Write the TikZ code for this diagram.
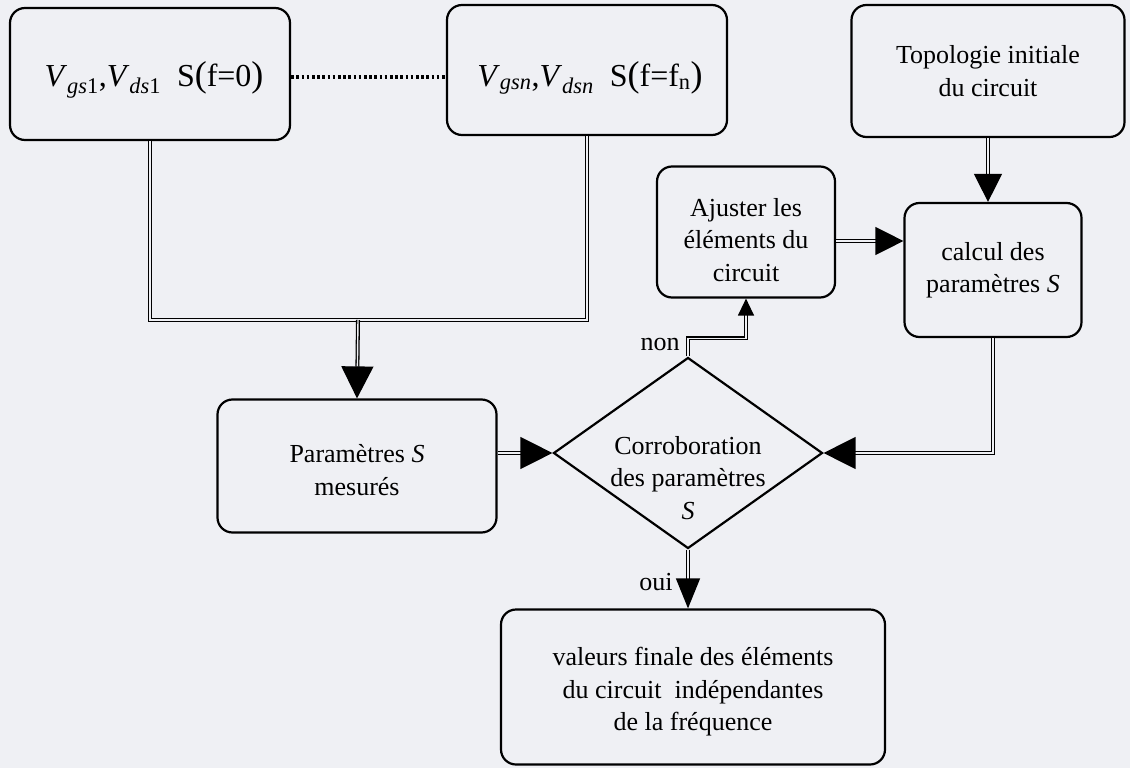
\documentclass[tikz,border=0pt]{standalone}
\usepackage{fontspec}
\setmainfont{Liberation Serif}
\usetikzlibrary{shapes.geometric,arrows.meta}
\definecolor{bgc}{RGB}{239,240,244}
\newcommand\bigparen[1]{{\fontsize{36}{36}\selectfont #1}}
\newcommand\vsub[2]{\textit{#1}\textsubscript{#2}}
\begin{document}
\begin{tikzpicture}[x=1pt,y=-1pt,
  box/.style={draw,line width=2.2pt,rounded corners=15pt,align=center,inner sep=0pt},
  conn/.style={line width=1.3pt,double=bgc,double distance=1.4pt},
  bigtip/.style={-{Triangle[length=32pt,width=32pt]}},
  midtip/.style={-{Triangle[length=28pt,width=28pt]}},
  smalltip/.style={-{Triangle[length=17pt,width=16pt]}},
  ouitip/.style={-{Triangle[length=30pt,width=24pt]}},
  dotline/.style={line width=3.6pt,dash pattern=on 2.6pt off 2.6pt},
  lbl/.style={inner sep=0pt},
  vtext/.style={font=\fontsize{32}{36}\selectfont},
  every node/.style={font=\fontsize{26}{32.5}\selectfont}]
\fill[bgc] (0,0) rectangle (1130,768);
\useasboundingbox (0,0) rectangle (1130,768);

\node[box,minimum width=280pt,minimum height=132pt] (b1) at (150,74) {};
\node[vtext,inner sep=0pt] (t1) at (154,80)
  {\vsub{V}{\textit{gs}1},\vsub{V}{\textit{ds}1}\ \ S\bigparen{(}f=0\bigparen{)}};
\node[box,minimum width=280pt,minimum height=130pt] (b2) at (587,70) {};
\node[vtext,inner sep=0pt] (t2) at (590,78)
  {\vsub{V}{\textit{gsn}},\vsub{V}{\textit{dsn}}\ \ S\bigparen{(}f=f\textsubscript{n}\bigparen{)}};
\node[box,minimum width=273pt,minimum height=132pt] (b3) at (988,71)
  {Topologie initiale\\du circuit};
\node[box,minimum width=178pt,minimum height=131pt] (b4) at (746,232) {};
\node[align=center,inner sep=0pt] (t4) at (746,240) {Ajuster les\\éléments du\\circuit};
\node[box,minimum width=177pt,minimum height=134pt] (b5) at (993,270)
  {calcul des\\paramètres \textit{S}};
\node[box,minimum width=279pt,minimum height=133pt] (b6) at (357,466) {};
\node[align=center,inner sep=0pt] (t6) at (357,470) {Paramètres \textit{S}\\mesurés};
\node[diamond,draw,line width=2.2pt,minimum width=269pt,minimum height=191pt,inner sep=0pt] (d) at (688,453) {};
\node[align=center,inner sep=0pt] (dt) at (688,478) {Corroboration\\des paramètres\\\textit{S}};
\node[box,minimum width=384pt,minimum height=155pt] (b7) at (693,687) {};
\node[align=center,inner sep=0pt] (t7) at (693,692)
  {valeurs finale des éléments\\du circuit\ \ indépendantes\\de la fréquence};

\coordinate (j) at (358,320);
\coordinate (jl) at (150,320);
\coordinate (jr) at (587,320);

\draw[dotline] ([yshift=-3pt]b1.east) -- ([yshift=-3pt]b1.east -| b2.west);

\draw[conn] (b1.south) -- (jl) -- (jr) -- (b2.south);
\draw[conn,bigtip] (j) -- (b6.north);
\draw[conn,midtip] (b3.south) -- (b3.south |- b5.north);
\draw[conn,midtip] ([yshift=-9pt]b4.east) -- ([yshift=-9pt]b4.east -| b5.west);
\draw[conn,bigtip] (b5.south) |- (d.east);
\draw[conn,bigtip] (d.west -| b6.east) -- (d.west);
\draw[conn,smalltip] (d.north) -- ++(0,-18) -| (b4.south);
\draw[conn,ouitip] (d.south) -- (d.south |- b7.north);

\node[lbl] (non) at (660,344) {non};
\node[lbl] (oui) at (656,582) {oui};
\end{tikzpicture}
\end{document}
